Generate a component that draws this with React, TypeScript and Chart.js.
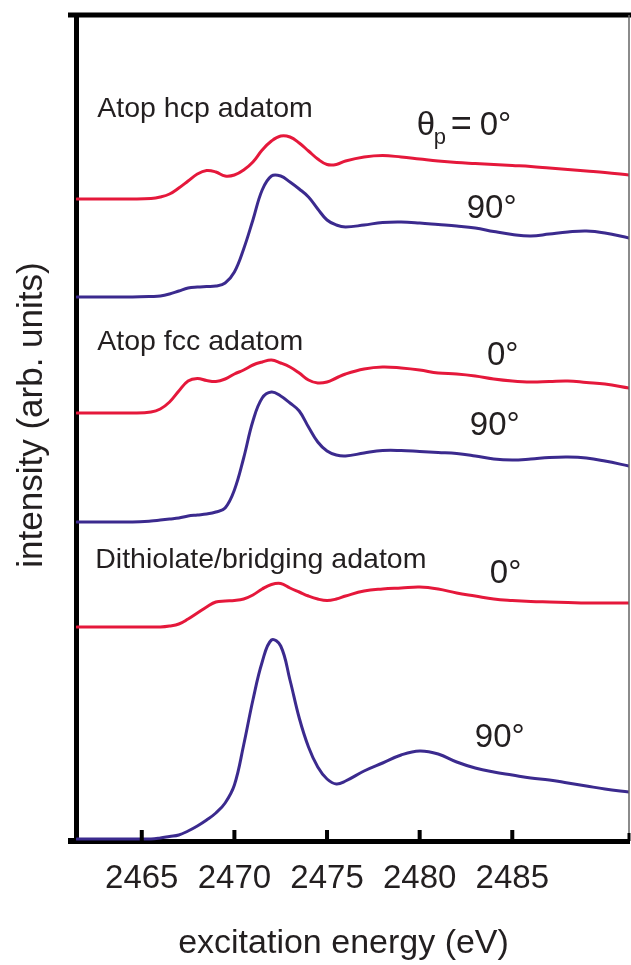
import React, { useEffect, useRef } from 'react';
import { Chart, registerables } from 'chart.js';

Chart.register(...registerables);

// excitation energy (eV), shared sampling grid
const energy = [2461.5, 2463, 2464.5, 2465.5, 2466, 2466.5, 2467, 2467.5, 2468, 2468.5, 2469, 2469.5, 2470, 2470.5, 2471, 2471.5, 2472, 2472.5, 2473, 2473.5, 2474, 2474.5, 2475, 2475.5, 2476, 2477, 2478, 2479, 2480, 2481, 2482, 2483, 2484, 2485, 2486, 2487, 2488, 2489, 2490, 2491.3];

// offset intensities (arb. units)
const hcp0 = [64.2, 64.2, 64.2, 64.25, 64.4, 64.7, 65.3, 66.0, 66.7, 67.05, 66.9, 66.5, 66.6, 67.1, 67.9, 69.1, 70.0, 70.5, 70.4, 69.8, 69.0, 68.2, 67.65, 67.65, 68.0, 68.4, 68.55, 68.4, 68.2, 68.0, 67.85, 67.75, 67.65, 67.55, 67.45, 67.3, 67.15, 67.0, 66.85, 66.6];
const hcp90 = [54.4, 54.4, 54.4, 54.45, 54.5, 54.7, 55.0, 55.3, 55.4, 55.45, 55.5, 55.8, 56.9, 59.2, 62.1, 65.1, 66.5, 66.5, 65.9, 65.2, 64.4, 63.2, 62.1, 61.6, 61.4, 61.6, 61.85, 61.9, 61.8, 61.65, 61.5, 61.3, 60.95, 60.65, 60.5, 60.7, 60.9, 61.0, 60.8, 60.3];
const fcc0 = [42.8, 42.8, 42.8, 42.9, 43.2, 43.9, 45.0, 46.0, 46.25, 46.05, 45.95, 46.2, 46.7, 47.1, 47.6, 47.9, 48.1, 47.8, 47.4, 46.8, 46.1, 45.8, 45.9, 46.3, 46.7, 47.2, 47.4, 47.3, 47.1, 46.8, 46.7, 46.5, 46.2, 46.0, 45.9, 45.95, 46.0, 45.85, 45.7, 45.3];
const fcc90 = [31.9, 31.9, 31.9, 32.0, 32.1, 32.2, 32.3, 32.5, 32.6, 32.7, 32.9, 33.3, 35.1, 38.3, 42.0, 44.3, 44.9, 44.5, 43.8, 43.0, 41.4, 39.9, 39.0, 38.6, 38.5, 38.8, 39.05, 39.05, 38.95, 38.85, 38.75, 38.5, 38.2, 38.1, 38.2, 38.35, 38.4, 38.3, 38.0, 37.5];
const dith0 = [21.4, 21.4, 21.4, 21.4, 21.4, 21.5, 21.7, 22.2, 22.8, 23.4, 23.9, 24.0, 24.05, 24.2, 24.6, 25.2, 25.65, 25.75, 25.3, 24.9, 24.5, 24.2, 24.05, 24.2, 24.5, 25.0, 25.2, 25.3, 25.4, 25.2, 24.8, 24.5, 24.2, 24.05, 23.95, 23.9, 23.85, 23.8, 23.8, 23.8];
const dith90 = [0.2, 0.2, 0.2, 0.2, 0.3, 0.45, 0.6, 1.0, 1.5, 2.1, 2.8, 3.8, 5.6, 9.6, 14.1, 17.9, 20.1, 19.5, 16.1, 12.3, 9.4, 7.4, 6.2, 5.7, 6.0, 7.0, 7.8, 8.6, 9.0, 8.7, 7.9, 7.3, 6.9, 6.6, 6.3, 6.1, 5.8, 5.5, 5.2, 4.9];

const xTicks = [2465, 2470, 2475, 2480, 2485];
const xMin = 2461.45;
const xMax = 2491.3;
const yMin = 0;
const yMax = 82.6;

const xTitle = 'excitation energy (eV)';
const yTitle = 'intensity (arb. units)';

// annotation labels anchored in data space (energy, intensity)
const groupLabels = ['Atop hcp adatom', 'Atop fcc adatom', 'Dithiolate/bridging adatom'];
const groupLabelE = [2462.6, 2462.6, 2462.49];
const groupLabelI = [72.4, 49.1, 27.3];

const angleLabels = ['90°', '0°', '90°', '0°', '90°'];
const angleLabelE = [2482.54, 2483.63, 2482.71, 2483.79, 2482.98];
const angleLabelI = [62.3, 47.6, 40.6, 25.8, 9.4];

const thetaE = 2479.84;
const thetaI = 70.6;

const RED = '#e5183b';
const PURPLE = '#3b2a8e';
const TEXT = '#231f20';
const FONT = '"Liberation Sans", Arial, Helvetica, sans-serif';

const seriesList = [
  { name: 'hcp 0°', values: hcp0, color: RED },
  { name: 'hcp 90°', values: hcp90, color: PURPLE },
  { name: 'fcc 0°', values: fcc0, color: RED },
  { name: 'fcc 90°', values: fcc90, color: PURPLE },
  { name: 'dithiolate 0°', values: dith0, color: RED },
  { name: 'dithiolate 90°', values: dith90, color: PURPLE },
];

const decorPlugin = {
  id: 'decor',
  afterDraw(chart: any) {
    const { ctx, chartArea: a, scales } = chart;
    const xs = scales.x;
    const ys = scales.y;
    ctx.save();
    // top frame line
    ctx.fillStyle = '#000';
    ctx.fillRect(a.left - 8, a.top - 2.5, chart.width - (a.left - 8), 5);
    // bottom-left corner nub
    ctx.fillRect(a.left - 8, a.bottom - 3, 8, 6);
    // right frame line
    ctx.fillStyle = '#666';
    ctx.fillRect(a.right - 0.75, a.top, 1.5, a.bottom - a.top);
    ctx.fillStyle = '#000';
    ctx.fillRect(a.right - 1.5, a.bottom - 8, 3, 8);
    // inward ticks
    xTicks.forEach((v) => {
      const px = xs.getPixelForValue(v);
      ctx.fillRect(px - 2, a.bottom - 11, 4, 11);
    });

    ctx.fillStyle = TEXT;
    ctx.textBaseline = 'alphabetic';
    ctx.textAlign = 'left';
    // group labels
    ctx.font = `28.5px ${FONT}`;
    groupLabels.forEach((t, i) => {
      ctx.fillText(t, xs.getPixelForValue(groupLabelE[i]), ys.getPixelForValue(groupLabelI[i]));
    });
    // angle labels
    ctx.font = `33px ${FONT}`;
    angleLabels.forEach((t, i) => {
      ctx.fillText(t, xs.getPixelForValue(angleLabelE[i]), ys.getPixelForValue(angleLabelI[i]));
    });
    // theta_p = 0°
    const tx = xs.getPixelForValue(thetaE);
    const ty = ys.getPixelForValue(thetaI);
    ctx.font = `33px ${FONT}`;
    ctx.fillText('θ', tx, ty);
    ctx.font = `22px ${FONT}`;
    ctx.fillText('p', tx + 17, ty + 9);
    ctx.font = `36px ${FONT}`;
    ctx.fillText('=', tx + 34, ty);
    ctx.font = `33px ${FONT}`;
    ctx.fillText('0°', tx + 63, ty);

    // axis titles
    ctx.font = `34px ${FONT}`;
    ctx.textAlign = 'center';
    ctx.fillText(xTitle, (a.left + a.right) / 2 - 9, chart.height - 12);
    ctx.save();
    ctx.translate(a.left - 34, (a.top + a.bottom) / 2 - 13);
    ctx.rotate(-Math.PI / 2);
    ctx.font = `35px ${FONT}`;
    ctx.fillText(yTitle, 0, 0);
    ctx.restore();
    ctx.restore();
  },
};

export default function App() {
  const canvasRef = useRef<HTMLCanvasElement | null>(null);

  useEffect(() => {
    const canvas = canvasRef.current;
    if (!canvas) return;
    Chart.defaults.font.family = FONT;
    const chart = new Chart(canvas, {
      type: 'line',
      data: {
        datasets: seriesList.map((s) => ({
          label: s.name,
          data: energy.map((e, i) => ({ x: e, y: s.values[i] })),
          borderColor: s.color,
          backgroundColor: s.color,
          borderWidth: 3,
          pointRadius: 0,
          tension: 0.4,
          borderJoinStyle: 'round' as const,
          borderCapStyle: 'round' as const,
          fill: false,
        })),
      },
      options: {
        animation: false,
        responsive: false,
        devicePixelRatio: 1,
        layout: { padding: { top: 15, right: 2, left: 0, bottom: 0 } },
        plugins: {
          legend: { display: false },
          tooltip: { enabled: false },
          title: { display: false },
        },
        scales: {
          x: {
            type: 'linear',
            min: xMin,
            max: xMax,
            afterBuildTicks: (s: any) => {
              s.ticks = xTicks.map((v) => ({ value: v }));
            },
            afterFit: (s: any) => {
              s.height = 124;
            },
            grid: { display: true, drawOnChartArea: false, drawTicks: false, color: 'rgba(0,0,0,0)' },
            border: { display: true, color: '#000', width: 5 },
            ticks: {
              autoSkip: false,
              maxRotation: 0,
              padding: 18,
              color: TEXT,
              font: { size: 33, family: FONT },
              callback: (v: any) => String(v),
            },
          },
          y: {
            type: 'linear',
            min: yMin,
            max: yMax,
            afterFit: (s: any) => {
              s.width = 76;
            },
            grid: { display: true, drawOnChartArea: false, drawTicks: false, color: 'rgba(0,0,0,0)' },
            border: { display: true, color: '#000', width: 5 },
            ticks: { display: false },
          },
        },
      },
      plugins: [decorPlugin],
    });
    return () => chart.destroy();
  }, []);

  return (
    <div style={{ position: 'absolute', left: 0, top: 0, width: 631, height: 965, background: '#fff' }}>
      <canvas ref={canvasRef} width={631} height={965} style={{ display: 'block', width: 631, height: 965 }} />
    </div>
  );
}
